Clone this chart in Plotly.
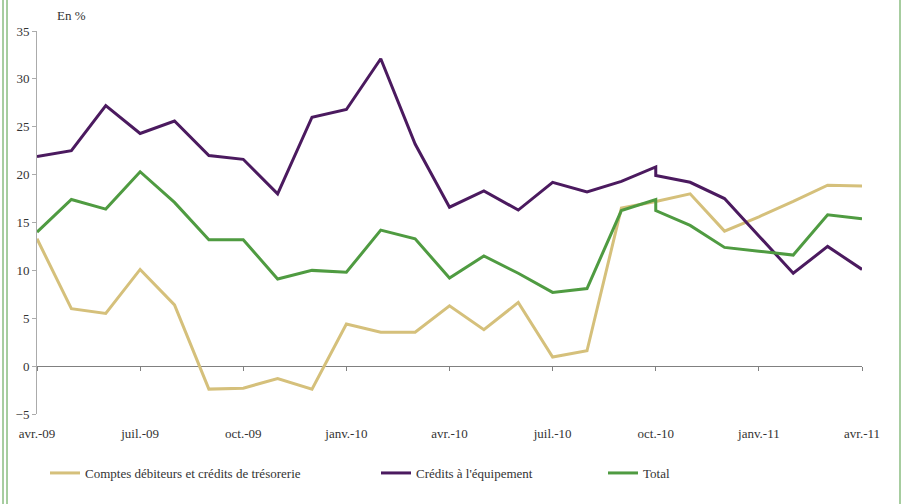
import plotly.graph_objects as go

# Months (oct.-10 appears twice: series break)
months = ["avr.-09", "mai-09", "juin-09", "juil.-09", "août-09", "sept.-09", "oct.-09",
          "nov.-09", "déc.-09", "janv.-10", "févr.-10", "mars-10", "avr.-10", "mai-10",
          "juin-10", "juil.-10", "août-10", "sept.-10", "oct.-10", "oct.-10", "nov.-10",
          "déc.-10", "janv.-11", "févr.-11", "mars-11", "avr.-11"]

comptes = [13.3, 6.0, 5.5, 10.1, 6.4, -2.4, -2.3, -1.3, -2.4, 4.4, 3.55, 3.55, 6.3,
           3.8, 6.65, 0.95, 1.6, 16.5, 17.2, 17.2, 18.0, 14.1, 15.6, 17.2, 18.9, 18.8]
equipement = [21.9, 22.5, 27.2, 24.3, 25.6, 22.0, 21.6, 18.0, 26.0, 26.8, 32.1, 23.2, 16.6,
              18.3, 16.3, 19.2, 18.2, 19.3, 20.8, 19.9, 19.2, 17.5, 13.6, 9.7, 12.5, 10.1]
total = [14.0, 17.4, 16.4, 20.3, 17.1, 13.2, 13.2, 9.1, 10.0, 9.8, 14.2, 13.3, 9.2,
         11.5, 9.7, 7.7, 8.1, 16.25, 17.4, 16.25, 14.7, 12.4, 12.0, 11.6, 15.8, 15.4]

tick_labels = ["avr.-09", "juil.-09", "oct.-09", "janv.-10", "avr.-10", "juil.-10",
               "oct.-10", "janv.-11", "avr.-11"]

series_names = ["Comptes débiteurs et crédits de trésorerie", "Crédits à l'équipement", "Total"]
colors = ["#D5C07B", "#4B1A5F", "#4F9B41"]

FONT = "Liberation Serif"
TXT = "#333333"

W, H = 902, 504
ML, MR, MT, MB = 37, 40, 31, 90
PW, PH = W - ML - MR, H - MT - MB


def px_x(p):
    return (p - ML) / PW


def px_y(p):
    return (H - MB - p) / PH


fig = go.Figure()
legends = ["legend", "legend2", "legend3"]
for name, vals, col, lg in zip(series_names, [comptes, equipement, total], colors, legends):
    fig.add_trace(go.Scatter(x=months, y=vals, mode="lines", name=name,
                             line=dict(color=col, width=3), legend=lg))

# invisible trace to carry the tick axis at y=0
fig.add_trace(go.Scatter(x=months, y=total, xaxis="x2", mode="lines",
                         line=dict(width=0), opacity=0, showlegend=False, hoverinfo="skip"))

leg_common = dict(orientation="h", yanchor="middle", xanchor="left",
                  font=dict(family=FONT, size=13, color=TXT), bgcolor="rgba(0,0,0,0)")
legend_x = [45, 376, 603]

cats = months[:19] + months[20:]

fig.update_layout(
    width=W, height=H,
    margin=dict(l=ML, r=MR, t=MT, b=MB),
    paper_bgcolor="white", plot_bgcolor="white",
    font=dict(family=FONT, size=13, color=TXT),
    legend=dict(x=px_x(legend_x[0]), y=px_y(473), **leg_common),
    legend2=dict(x=px_x(legend_x[1]), y=px_y(473), **leg_common),
    legend3=dict(x=px_x(legend_x[2]), y=px_y(473), **leg_common),
    xaxis=dict(type="category", categoryorder="array", categoryarray=cats,
               range=[0, 24], tickmode="array", tickvals=tick_labels, ticktext=tick_labels,
               showline=False, showgrid=False, zeroline=False, ticks="",
               ticklabelstandoff=10, tickfont=dict(family=FONT, size=13, color=TXT)),
    xaxis2=dict(type="category", categoryorder="array", categoryarray=cats,
                range=[0, 24], overlaying="x", anchor="free", position=5 / 40, side="bottom",
                tickmode="array", tickvals=tick_labels, showticklabels=False,
                ticks="outside", ticklen=4, tickcolor="#808080", tickwidth=1,
                showline=False, showgrid=False, zeroline=False),
    yaxis=dict(range=[-5, 35], dtick=5, tick0=0, showgrid=False,
               showline=True, linecolor="#ababab", linewidth=1,
               ticks="outside", ticklen=4, tickcolor="#ababab",
               zeroline=True, zerolinecolor="#808080", zerolinewidth=1,
               tickfont=dict(family=FONT, size=13, color=TXT)),
    annotations=[dict(text="En %", x=px_x(71), y=px_y(16), xref="paper", yref="paper",
                      showarrow=False, xanchor="center", yanchor="middle",
                      font=dict(family=FONT, size=13, color=TXT))],
    shapes=[
        dict(type="line", xref="paper", yref="paper", x0=px_x(xp), x1=px_x(xp),
             y0=px_y(-5), y1=px_y(H + 5), line=dict(color="#4F9B41", width=1))
        for xp in (3, 7, 900)
    ],
    showlegend=True,
)

fig.write_html("out.html", config={"displayModeBar": False},
               post_script="document.body.style.margin='0';document.body.style.padding='0';")
